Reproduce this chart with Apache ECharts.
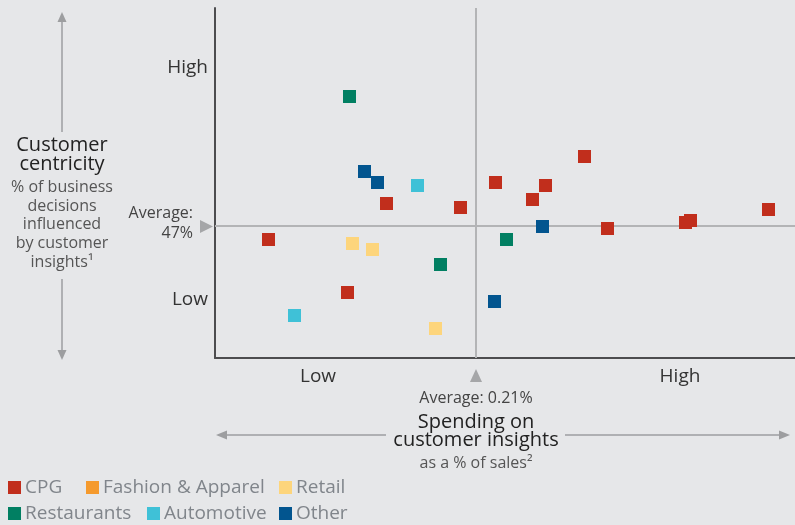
<!DOCTYPE html>
<html>
<head>
<meta charset="utf-8">
<script src="https://cdn.jsdelivr.net/npm/echarts@6/dist/echarts.min.js"></script>
<style>
html, body { margin: 0; padding: 0; background: #e6e7e9; }
#chart { width: 795px; height: 525px; }
</style>
</head>
<body>
<div id="chart"></div>
<script>
// relative scales only (chart shows Low / High)
var seriesNames = ['CPG', 'Fashion & Apparel', 'Retail', 'Restaurants', 'Automotive', 'Other'];
var seriesColors = ['#c12e1c', '#f59a2d', '#fdd57c', '#017f62', '#3fc1d7', '#02558f'];

var cpg = [[5.35, 11.85], [13.25, 6.55], [17.15, 15.45], [24.55, 15.05], [28.05, 17.55], [31.75, 15.85],
           [33.05, 17.25], [36.95, 20.15], [39.25, 12.95], [47.05, 13.55], [47.55, 13.75], [55.35, 14.85]];
var fashion = [];
var retail = [[13.75, 11.45], [15.75, 10.85], [22.05, 2.95]];
var restaurants = [[13.45, 26.15], [22.55, 9.35], [29.15, 11.85]];
var automotive = [[20.25, 17.25], [7.95, 4.25]];
var other = [[14.95, 18.65], [16.25, 17.55], [32.75, 13.15], [27.95, 5.65]];

var avgSpend = 26.1;      // Average: 0.21%
var avgCentricity = 13.2; // Average: 47%
var xMax = 58, yMax = 35;

var myChart = echarts.init(document.getElementById('chart'));

var font = '"Open Sans", sans-serif';
var allData = [cpg, fashion, retail, restaurants, automotive, other];

// average lines, drawn under the squares
var series = [{
    name: 'avgX', type: 'line', z: 1, silent: true, symbol: 'none',
    data: [[avgSpend, 0], [avgSpend, yMax]],
    lineStyle: { color: '#b3b4b6', width: 2 }
}, {
    name: 'avgY', type: 'line', z: 1, silent: true, symbol: 'none',
    data: [[0, avgCentricity], [xMax, avgCentricity]],
    lineStyle: { color: '#b3b4b6', width: 2 }
}];
for (let i = 0; i < seriesNames.length; i++) {
    series.push({
        name: seriesNames[i],
        type: 'scatter',
        symbol: 'rect',
        symbolSize: 13,
        z: 3,
        data: allData[i],
        itemStyle: { color: seriesColors[i], opacity: 1 }
    });
}

// one legend per item so they sit in the same columns as the original
var legendLeft = [8, 86, 279, 8, 147, 279];
var legendTop = [478, 478, 478, 504, 504, 504];
var legends = [];
for (let i = 0; i < seriesNames.length; i++) {
    legends.push({
        data: [seriesNames[i]],
        left: legendLeft[i],
        top: legendTop[i],
        padding: 0,
        icon: 'rect',
        itemWidth: 13,
        itemHeight: 13,
        itemGap: 0,
        selectedMode: false,
        textStyle: { fontFamily: font, fontSize: 19, color: '#80858b', padding: [0, 0, 0, -1] }
    });
}

var textColor = '#333';
var graphic = [
    // y side
    { type: 'text', style: { text: 'High', x: 208, y: 68, align: 'right', verticalAlign: 'middle', font: '19px ' + font, fill: textColor } },
    { type: 'text', style: { text: 'Low', x: 208, y: 300, align: 'right', verticalAlign: 'middle', font: '19px ' + font, fill: textColor } },
    { type: 'text', style: { text: 'Customer\ncentricity', x: 62, y: 136, align: 'center', verticalAlign: 'top', lineHeight: 19, font: '20px ' + font, fill: '#222' } },
    { type: 'text', style: { text: '% of business\ndecisions\ninfluenced\nby customer\ninsights\u00b9', x: 62, y: 178, align: 'center', verticalAlign: 'top', lineHeight: 18.7, font: '16px ' + font, fill: '#555' } },
    { type: 'text', style: { text: 'Average:\n47%', x: 193, y: 203, align: 'right', verticalAlign: 'top', lineHeight: 20, font: '16px ' + font, fill: '#444' } },
    { type: 'polygon', shape: { points: [[200, 220], [213, 226.5], [200, 233]] }, style: { fill: '#a5a6a8' } },
    { type: 'line', shape: { x1: 62, y1: 16, x2: 62, y2: 132 }, style: { stroke: '#9d9ea0', lineWidth: 1.5 } },
    { type: 'polygon', shape: { points: [[57.5, 22], [62, 12], [66.5, 22]] }, style: { fill: '#9d9ea0' } },
    { type: 'line', shape: { x1: 62, y1: 279, x2: 62, y2: 354 }, style: { stroke: '#9d9ea0', lineWidth: 1.5 } },
    { type: 'polygon', shape: { points: [[57.5, 350], [62, 360], [66.5, 350]] }, style: { fill: '#9d9ea0' } },
    // x side
    { type: 'text', style: { text: 'Low', x: 318, y: 377, align: 'center', verticalAlign: 'middle', font: '19px ' + font, fill: textColor } },
    { type: 'text', style: { text: 'High', x: 680, y: 377, align: 'center', verticalAlign: 'middle', font: '19px ' + font, fill: textColor } },
    { type: 'polygon', shape: { points: [[470, 382], [476, 369], [482, 382]] }, style: { fill: '#a5a6a8' } },
    { type: 'text', style: { text: 'Average: 0.21%', x: 476, y: 398, align: 'center', verticalAlign: 'middle', font: '16px ' + font, fill: '#444' } },
    { type: 'text', style: { text: 'Spending on\ncustomer insights', x: 476, y: 413, align: 'center', verticalAlign: 'top', lineHeight: 18, font: '20px ' + font, fill: '#222' } },
    { type: 'text', style: { text: 'as a % of sales\u00b2', x: 476, y: 463, align: 'center', verticalAlign: 'middle', font: '16px ' + font, fill: '#555' } },
    { type: 'line', shape: { x1: 220, y1: 435, x2: 386, y2: 435 }, style: { stroke: '#9d9ea0', lineWidth: 1.5 } },
    { type: 'polygon', shape: { points: [[227, 430.5], [216, 435], [227, 439.5]] }, style: { fill: '#9d9ea0' } },
    { type: 'line', shape: { x1: 565, y1: 435, x2: 785, y2: 435 }, style: { stroke: '#9d9ea0', lineWidth: 1.5 } },
    { type: 'polygon', shape: { points: [[779, 430.5], [790, 435], [779, 439.5]] }, style: { fill: '#9d9ea0' } }
];

var option = {
    backgroundColor: '#e6e7e9',
    animation: false,
    grid: { left: 215, right: 0, top: 8, bottom: 167 },
    xAxis: {
        type: 'value', min: 0, max: xMax,
        axisLine: { show: true, lineStyle: { color: '#4d4d4f', width: 2 } },
        axisTick: { show: false }, axisLabel: { show: false }, splitLine: { show: false }
    },
    yAxis: {
        type: 'value', min: 0, max: yMax,
        axisLine: { show: true, lineStyle: { color: '#4d4d4f', width: 2 } },
        axisTick: { show: false }, axisLabel: { show: false }, splitLine: { show: false }
    },
    legend: legends,
    series: series,
    graphic: graphic
};
myChart.setOption(option);
</script>
</body>
</html>
